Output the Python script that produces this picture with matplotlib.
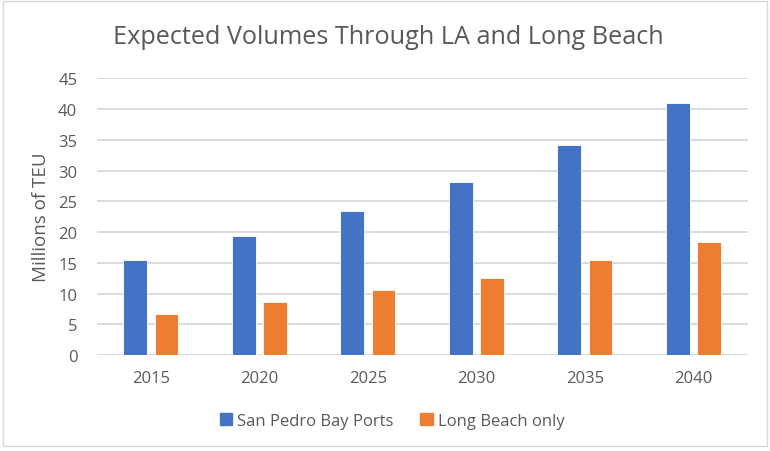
import matplotlib.pyplot as plt
from matplotlib.patches import Patch, Rectangle
import numpy as np

# dati
anni = ['2015', '2020', '2025', '2030', '2035', '2040']
san_pedro = [15.4, 19.3, 23.5, 28.2, 34.2, 41.0]
long_beach = [6.7, 8.7, 10.5, 12.6, 15.4, 18.4]

blu = '#4472C4'
arancio = '#ED7D31'
grigio = '#595959'

plt.rcParams['font.family'] = ['Open Sans', 'DejaVu Sans']

fig = plt.figure(figsize=(7.7, 4.52), dpi=100)
ax = fig.add_axes([96.7 / 770, 1 - 356 / 452, 651 / 770, 276.7 / 452])

x = np.arange(len(anni))
w = 0.22
ax.bar(x - 0.143, san_pedro, w, color=blu, edgecolor='white', linewidth=0.6, zorder=3)
ax.bar(x + 0.143, long_beach, w, color=arancio, edgecolor='white', linewidth=0.6, zorder=3)

ax.set_xlim(-0.5, len(anni) - 0.5)
ax.set_ylim(0, 45)
ax.set_yticks(range(0, 46, 5))
ax.set_xticks(x)
ax.set_xticklabels(anni)
ax.grid(axis='y', color='#D9D9D9', linewidth=1.3, zorder=0)
for s in ax.spines.values():
    s.set_visible(False)
ax.tick_params(length=0, colors=grigio, labelsize=12)
ax.tick_params(axis='y', pad=14)
ax.tick_params(axis='x', pad=11)

# etichetta asse y posizionata a mano
fig.text(41 / 770, 1 - 217 / 452, 'Millions of TEU', rotation=90,
         ha='center', va='center', fontsize=13.5, color=grigio)

fig.text(388 / 770, 1 - 37 / 452, 'Expected Volumes Through LA and Long Beach',
         ha='center', va='center', fontsize=18.2, color=grigio)

handles = [Patch(color=blu, label='San Pedro Bay Ports'),
           Patch(color=arancio, label='Long Beach only')]
leg = fig.legend(handles=handles, loc='center', ncol=2, frameon=False,
                 bbox_to_anchor=(392 / 770, 1 - 422 / 452), fontsize=12,
                 handlelength=0.75, handleheight=0.75, handletextpad=0.3,
                 columnspacing=1.6)
for t in leg.get_texts():
    t.set_color(grigio)

# bordo del grafico
fig.patches.append(Rectangle((3 / 770, 5 / 452), 764 / 770, 445 / 452,
                             transform=fig.transFigure, fill=False,
                             edgecolor='#D9D9D9', linewidth=1))

fig.savefig('out.png', dpi=100)
